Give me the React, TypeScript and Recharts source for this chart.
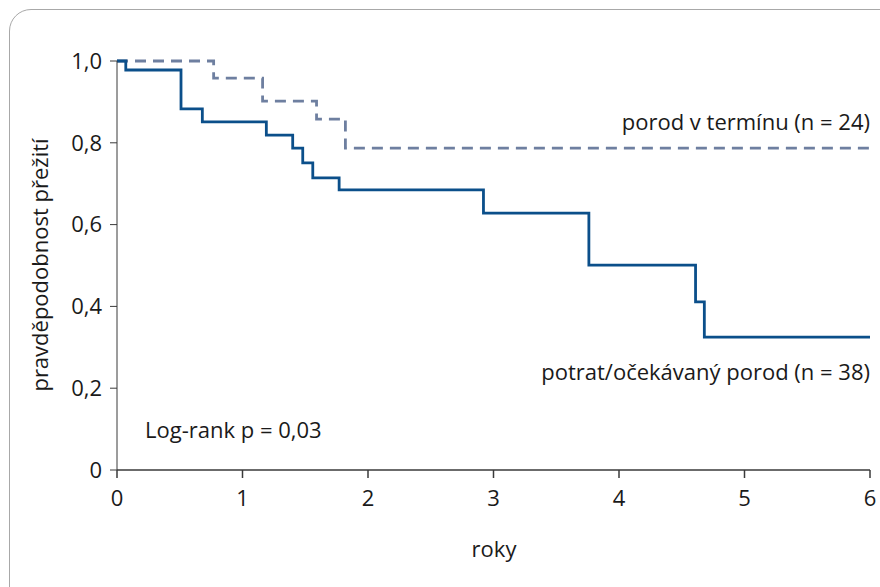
import React from 'react';
import { LineChart, Line, XAxis, YAxis } from 'recharts';

// solid curve: potrat/očekávaný porod (n = 38)
const lossTimes = [0, 0.07, 0.51, 0.68, 1.19, 1.4, 1.48, 1.56, 1.77, 2.92, 3.76, 4.61, 4.68, 6];
const lossSurvival = [1, 0.978, 0.883, 0.851, 0.819, 0.787, 0.751, 0.714, 0.685, 0.628, 0.501, 0.411, 0.325, 0.325];

// dashed curve: porod v termínu (n = 24)
const termTimes = [0, 0.77, 1.16, 1.59, 1.82, 6];
const termSurvival = [1, 0.958, 0.902, 0.858, 0.787, 0.787];

const xTicks = [0, 1, 2, 3, 4, 5, 6];
const yTicks = [0, 0.2, 0.4, 0.6, 0.8, 1];

const lossData = lossTimes.map((t, i) => ({ t, s: lossSurvival[i] }));
const termData = termTimes.map((t, i) => ({ t, s: termSurvival[i] }));

const FONT = '"Open Sans", sans-serif';
const FS = 22;
const TXT = '#1a1a1a';
const AXIS = '#3a3a3a';

const fmtY = (v: number) => (v === 0 ? '0' : v.toFixed(1).replace('.', ','));

export default function App() {
  return (
    <div style={{ position: 'fixed', left: 0, top: 0, width: 880, height: 587, overflow: 'hidden', background: '#fff' }}>
      <div
        style={{
          position: 'absolute', left: 9, top: 9, width: 920, height: 640,
          border: '1px solid #a8a8a8', borderRadius: 22,
        }}
      />
      <div style={{ position: 'absolute', left: 0, top: 0 }}>
        <LineChart width={880} height={587} margin={{ top: 61, right: 10, left: 0, bottom: 0 }}>
          <XAxis
            dataKey="t"
            type="number"
            domain={[0, 6]}
            ticks={xTicks}
            height={117}
            stroke={AXIS}
            strokeWidth={1.5}
            tickSize={8}
            tickMargin={12}
            tick={{ fill: TXT, fontSize: FS, fontFamily: FONT }}
          />
          <YAxis
            type="number"
            domain={[0, 1]}
            ticks={yTicks}
            width={117}
            stroke={AXIS}
            tickSize={7}
            tickMargin={8}
            tickFormatter={fmtY}
            tick={{ fill: TXT, fontSize: FS, fontFamily: FONT }}
          />
          <Line
            data={termData}
            dataKey="s"
            type="stepAfter"
            stroke="#6e7fa0"
            strokeWidth={2.8}
            strokeDasharray="11 7"
            dot={false}
            isAnimationActive={false}
          />
          <Line
            data={lossData}
            dataKey="s"
            type="stepAfter"
            stroke="#0b4f8a"
            strokeWidth={2.8}
            dot={false}
            isAnimationActive={false}
          />
          <text x={39} y={265} transform="rotate(-90 39 265)" textAnchor="middle" dominantBaseline="central"
            fill={TXT} fontSize={FS} fontFamily={FONT}>pravděpodobnost přežití</text>
          <text x={494} y={548} textAnchor="middle" dominantBaseline="central"
            fill={TXT} fontSize={FS} fontFamily={FONT}>roky</text>
          <text x={870} y={121} textAnchor="end" dominantBaseline="central"
            fill={TXT} fontSize={FS} fontFamily={FONT}>porod v termínu (n = 24)</text>
          <text x={870} y={371} textAnchor="end" dominantBaseline="central"
            fill={TXT} fontSize={FS} fontFamily={FONT}>potrat/očekávaný porod (n = 38)</text>
          <text x={145} y={429} textAnchor="start" dominantBaseline="central"
            fill={TXT} fontSize={FS} fontFamily={FONT}>Log-rank p = 0,03</text>
        </LineChart>
      </div>
    </div>
  );
}
